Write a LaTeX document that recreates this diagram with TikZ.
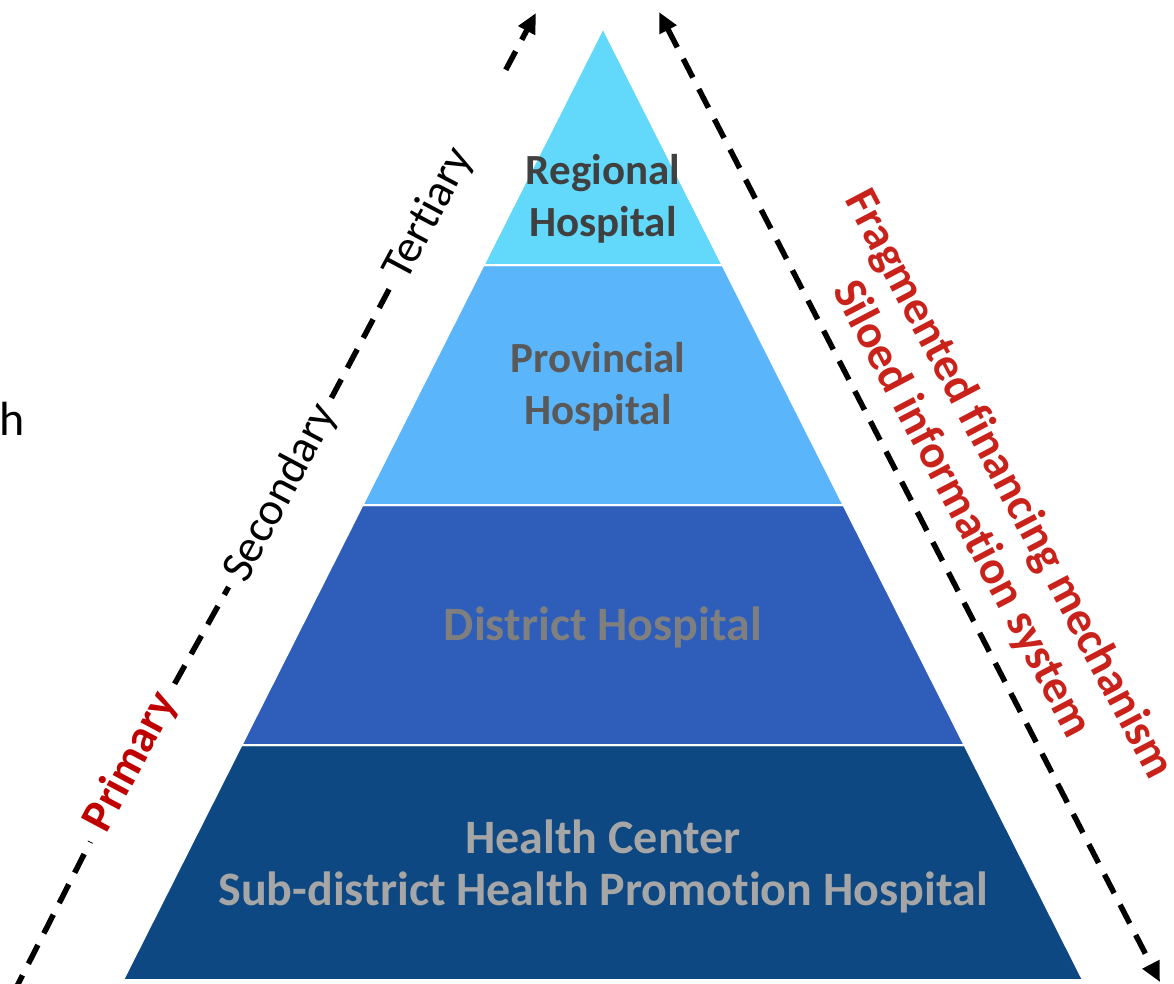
\documentclass[tikz,border=0pt]{standalone}
\usepackage{fontspec}
\setmainfont{Carlito}[Ligatures=NoCommon]
\usetikzlibrary{arrows.meta}

\definecolor{tierA}{HTML}{62D9FA}
\definecolor{tierB}{HTML}{5BB5FA}
\definecolor{tierC}{HTML}{2E5DBA}
\definecolor{tierD}{HTML}{0E4883}
\definecolor{inkA}{HTML}{404040}
\definecolor{inkB}{HTML}{595959}
\definecolor{inkC}{HTML}{7F7F7F}
\definecolor{inkD}{HTML}{A6A6A6}
\definecolor{levelred}{HTML}{C00000}
\definecolor{issuered}{HTML}{C9221B}

\begin{document}
\begin{tikzpicture}[x=1pt,y=-1pt,
  band/.style={draw=white,line width=2pt},
  tierlabel/.style={font=\bfseries\fontsize{48}{52}\selectfont,align=center,inner sep=0pt},
  toplabel/.style={tierlabel,font=\bfseries\fontsize{43}{52}\selectfont},
  flow/.style={line width=5.5pt,dash pattern=on 21pt off 13pt,black},
  bigtip/.tip={Triangle[length=20pt,width=18pt]},
  levellabel/.style={font=\fontsize{46}{52}\selectfont,inner xsep=10pt,inner ysep=2pt,rotate=61.95}]
\useasboundingbox (0,0) rectangle (1174,984);

% pyramid of care levels
\draw[band,fill=tierD] (241.5,745) -- (964.5,745) -- (1083,980) -- (123,980) -- cycle;
\draw[band,fill=tierC] (362.5,505) -- (843.5,505) -- (964.5,745) -- (241.5,745) -- cycle;
\draw[band,fill=tierB] (483.5,265) -- (722.5,265) -- (843.5,505) -- (362.5,505) -- cycle;
\draw[band,fill=tierA] (603,28) -- (722.5,265) -- (483.5,265) -- cycle;

\node[toplabel,text=inkA] (regional) at (603,199) {Regional\\Hospital};
\node[toplabel,text=inkB] (provincial) at (598,387) {Provincial\\Hospital};
\node[tierlabel,text=inkC] (district) at (603,627) {District Hospital};
\node[tierlabel,text=inkD] (health) at (603,866) {Health Center\\Sub-district Health Promotion Hospital};

% referral axis on the left, broken by the level names
\coordinate (upStart) at (13,994);
\coordinate (upEnd) at (536,13);
\node[levellabel,font=\bfseries\fontsize{46}{52}\selectfont,text=levelred,inner xsep=14pt] (primary) at (131,762) {Primary};
\node[levellabel] (secondary) at (281,493) {Secondary};
\node[levellabel,inner xsep=4pt] (tertiary) at (429,214) {Tertiary};
\draw[flow] (upStart) -- (primary);
\draw[flow] (primary) -- (secondary);
\draw[flow] (secondary) -- (tertiary);
\draw[flow,-bigtip,shorten <=88pt] (tertiary) -- (upEnd);

% two-way axis on the right
\coordinate (sideTop) at (659,12);
\coordinate (sideBot) at (1160,982);
\draw[flow,bigtip-bigtip] (sideTop) -- (sideBot);
\node[font=\bfseries\fontsize{47}{53}\selectfont,text=issuered,align=center,rotate=-62.3] (issues) at (985,497)
  {Fragmented financing mechanism\\Siloed information system};

\node[font=\fontsize{48}{52}\selectfont,anchor=base west,inner sep=0pt] (stray) at (-1,435) {h};
\end{tikzpicture}
\end{document}
